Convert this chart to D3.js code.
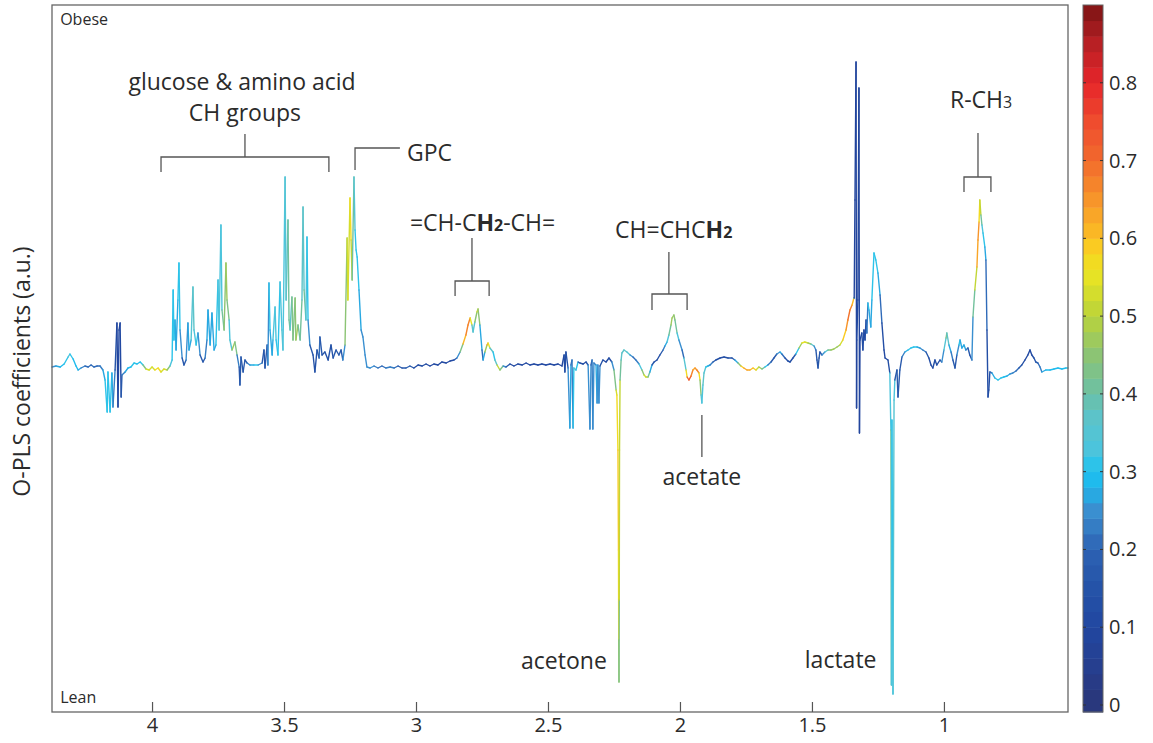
<!DOCTYPE html>
<html><head><meta charset="utf-8">
<script src="https://cdn.jsdelivr.net/npm/d3@7"></script>
<style>body{margin:0;background:#fff}svg{display:block}text{font-family:"Open Sans",sans-serif;fill:#2b2b2b}</style>
</head><body><svg id="c" width="1153" height="743"></svg>
<script>
// ---- data: chemical shift (ppm), O-PLS coefficient (a.u.), correlation |r| ----
const ppm = [
4.379,4.364,4.348,4.333,4.318,4.311,4.299,4.288,4.280,4.269,4.254,4.242,4.231,4.220,4.208,4.197,4.186,4.178,4.170,4.167,4.159,4.152,4.148,4.140,4.133,4.129,4.125,4.121,4.117,4.114,4.102,4.091,4.080,4.068,4.057,4.045,4.034,4.023,4.011,4.000,3.989,3.977,3.966,3.955,3.943,3.932,
3.924,3.920,3.917,3.913,3.909,3.902,3.898,3.894,3.886,3.879,3.871,3.864,3.860,3.852,3.845,3.841,3.833,3.826,3.818,3.807,3.799,3.792,3.788,3.780,3.773,3.765,3.758,3.750,3.746,3.739,3.735,3.727,3.720,3.716,3.708,3.705,3.697,3.686,3.678,3.670,3.667,3.663,3.655,3.648,3.640,3.629,3.614,3.598,3.583,3.576,3.572,3.564,3.561,3.557,3.553,3.545,3.542,3.534,3.530,3.523,3.515,3.508,3.504,3.496,3.492,3.485,3.481,3.477,3.470,3.466,3.458,3.455,3.447,3.439,3.432,3.428,3.424,3.417,3.413,3.409,3.402,3.390,3.383,3.375,3.367,3.364,3.356,3.345,3.333,3.322,3.314,3.303,3.292,3.284,3.277,3.269,3.261,3.258,3.250,3.246,3.242,3.235,3.231,3.227,3.223,3.216,3.208,3.201,3.193,3.186,3.174,
3.159,3.144,3.129,3.114,3.098,3.083,3.068,3.053,3.038,3.023,3.008,2.992,2.977,2.962,2.947,2.932,2.917,2.902,2.886,2.871,2.856,2.845,
2.833,2.822,2.811,2.803,2.795,2.788,2.784,2.777,2.769,2.765,2.758,2.750,2.746,2.739,2.731,2.727,2.720,2.708,2.701,2.693,2.682,2.670,2.659,
2.644,2.629,2.614,2.598,2.583,2.568,2.553,2.538,2.523,2.508,2.492,2.477,2.462,2.447,
2.439,2.436,2.432,2.424,2.417,2.413,2.409,2.405,2.402,2.394,2.386,2.379,2.367,2.356,2.348,2.341,2.337,2.333,2.330,2.326,2.318,2.314,2.311,2.307,2.303,2.292,2.280,2.269,2.258,
2.250,2.242,2.239,2.235,2.233,2.232,2.231,2.230,2.229,2.227,2.223,2.220,2.212,2.201,2.189,2.178,2.167,2.155,2.144,2.136,2.129,2.121,2.114,2.106,
2.098,2.087,2.076,2.064,2.057,2.049,2.042,2.034,2.030,2.023,2.019,2.011,2.004,1.992,1.985,1.977,1.973,1.966,1.958,1.951,1.943,1.936,1.928,1.924,1.920,1.917,1.913,1.909,1.902,1.894,1.886,1.875,1.864,1.848,1.833,1.818,1.803,1.792,1.780,1.769,1.758,1.746,1.735,1.723,1.712,1.701,1.689,1.678,1.667,
1.655,1.644,1.633,1.621,1.614,1.602,1.591,1.583,1.572,1.561,1.549,1.538,1.527,1.515,1.504,1.492,1.485,1.481,1.477,1.473,1.470,1.462,1.451,1.439,1.428,1.417,1.405,1.394,1.383,1.371,1.364,1.356,1.348,1.341,1.340,
1.337,1.333,1.331,1.330,1.326,1.322,1.320,1.318,1.311,1.307,1.303,1.299,1.295,1.292,1.288,1.284,1.277,1.273,1.265,1.258,1.250,1.242,1.235,1.227,1.223,1.212,1.205,1.201,1.199,1.197,1.193,1.189,1.186,1.178,1.174,1.167,
1.159,1.148,1.136,1.125,1.114,1.102,1.091,1.080,1.068,1.057,1.049,1.042,1.034,1.027,1.015,1.008,1.000,0.992,0.989,0.981,0.973,0.966,0.958,0.951,0.943,0.939,0.932,0.924,0.917,0.909,0.902,0.894,0.890,0.883,0.875,0.871,0.867,0.864,0.860,0.856,0.852,0.845,0.841,0.837,0.833,0.830,0.826,0.818,0.807,0.795,0.784,0.773,0.761,0.750,0.739,0.727,0.716,0.705,0.693,0.682,0.674,0.667,0.659,0.652,0.644,0.636,0.629,0.614,0.598,0.583,0.568,0.553,0.538,0.530
];
const coef = [
0,0.01,0,0.03,0.10,0.13,0.08,0.01,-0.03,-0.01,0.01,0,0.02,0,0.01,0.01,-0.03,-0.13,-0.45,-0.05,-0.45,-0.06,-0.40,-0.03,0.44,-0.40,0.37,0.44,-0.30,-0.08,-0.05,-0.01,0,0.04,0.03,0.05,0.02,-0.02,-0.03,0,-0.03,-0.01,-0.05,-0.02,-0.03,0.01,
0.07,0.77,0.27,0.47,0.17,0.67,1.04,0.37,0.09,0.02,0.07,0.44,0.17,0.27,0.80,0.37,0.22,0.34,0.12,0.05,0.09,0.27,0.57,0.22,0.54,0.17,0.22,0.87,0.37,1.42,0.57,0.37,1.04,0.67,0.47,0.27,0.17,0.25,0.12,0,-0.18,0.10,-0.05,0.07,0.04,0.02,0.02,0.02,0.04,0.17,-0.01,0.22,0.02,0.84,0.37,0.12,0.27,0.60,0.27,0.12,0.85,0.37,0.17,1.90,0.67,1.47,0.47,0.37,0.70,0.27,0.69,0.27,0.42,0.27,0.67,1.60,0.77,0.47,1.30,0.47,0.22,0.12,-0.05,0.17,0.09,0.30,0.12,0.15,0.07,0.22,0.09,0.17,0.12,0.17,0.07,0.22,1.29,0.67,1.69,1.27,0.87,1.90,1.37,1.17,1.10,0.77,0.37,0.30,0.12,0,-0.01,
0.01,-0.01,0.01,-0.01,0,-0.01,0.01,-0.01,-0.01,0.01,-0.01,0.02,0.01,0.03,0.01,0.03,0.02,0.05,0.04,0.06,0.07,0.09,
0.15,0.23,0.32,0.42,0.49,0.42,0.35,0.45,0.55,0.58,0.42,0.17,0.07,0.15,0.22,0.24,0.19,0.15,0.07,0.02,-0.03,0.01,0,
0.03,0.01,0.03,0.02,0.04,0.02,0.03,0.02,0.03,0.02,0.03,0.02,0.03,0.01,
0.12,-0.05,0.15,-0.01,-0.61,0.02,0.07,-0.61,-0.01,-0.03,0.05,0.04,0.03,0.05,0.02,-0.62,0.02,0.07,-0.62,0.04,0.02,-0.36,0.02,-0.36,0.01,0.07,0.05,0.09,0.05,
-0.03,-0.23,-0.28,-0.83,-1.83,-2.73,-3.15,-2.33,-0.83,-0.13,0.07,0.14,0.17,0.15,0.12,0.10,0.07,0.03,-0.03,-0.08,-0.10,-0.10,-0.05,0.02,
0.05,0.07,0.12,0.17,0.21,0.25,0.32,0.42,0.49,0.52,0.47,0.34,0.27,0.17,0.09,-0.03,-0.10,-0.13,-0.09,-0.03,-0.01,-0.03,-0.06,-0.13,-0.28,-0.36,-0.18,-0.06,0,0.01,0.02,0.05,0.07,0.09,0.10,0.09,0.09,0.07,0.04,0.01,-0.01,-0.03,-0.03,-0.01,-0.03,0,-0.02,0,0.02,
0.05,0.09,0.13,0.15,0.13,0.09,0.06,0.05,0.09,0.13,0.19,0.24,0.25,0.24,0.23,0.21,0.17,0.07,-0.01,0.09,0.15,0.12,0.15,0.17,0.17,0.18,0.20,0.22,0.27,0.37,0.47,0.57,0.62,0.69,0.69,
1.67,3.05,-0.41,0.27,0.67,2.79,-0.66,0.27,0.34,0.17,0.37,0.27,0.47,0.34,0.64,0.57,0.40,0.67,1.14,1.07,0.94,0.72,0.44,0.17,0.09,0.07,-0.06,-0.63,-3.18,-0.53,-3.27,-0.33,-0.13,-0.03,-0.30,-0.03,
0.10,0.15,0.17,0.19,0.20,0.20,0.19,0.17,0.15,0.09,0.02,-0.01,0.07,0.02,0.07,0.05,0.17,0.29,0.34,0.22,0.15,0.07,-0.01,0.12,0.22,0.27,0.19,0.22,0.17,0.19,0.12,0.07,0.50,0.77,1.00,1.27,1.45,1.67,1.52,1.42,1.34,1.20,1.07,0.37,-0.30,-0.23,-0.05,-0.06,-0.11,-0.13,-0.11,-0.10,-0.09,-0.07,-0.06,-0.04,-0.01,0.02,0.07,0.12,0.17,0.12,0.09,0.05,0.04,0,-0.05,-0.03,-0.03,-0.02,-0.01,-0.02,-0.01,-0.01
];
const corr = [
0.25,0.25,0.28,0.3,0.32,0.33,0.3,0.28,0.3,0.25,0.22,0.2,0.2,0.22,0.2,0.2,0.25,0.3,0.32,0.3,0.32,0.3,0.25,0.2,0.08,0.1,0.1,0.08,0.12,0.2,0.25,0.28,0.3,0.3,0.3,0.28,0.35,0.5,0.55,0.5,0.55,0.6,0.55,0.5,0.55,0.35,
0.3,0.3,0.3,0.3,0.25,0.3,0.32,0.3,0.2,0.15,0.2,0.3,0.25,0.3,0.4,0.35,0.3,0.3,0.2,0.15,0.2,0.25,0.3,0.25,0.3,0.25,0.3,0.32,0.35,0.3,0.35,0.45,0.45,0.5,0.35,0.3,0.4,0.55,0.3,0.15,0.2,0.15,0.2,0.15,0.2,0.25,0.3,0.3,0.2,0.15,0.15,0.2,0.2,0.3,0.3,0.25,0.3,0.35,0.3,0.3,0.3,0.35,0.35,0.3,0.4,0.35,0.45,0.35,0.4,0.45,0.4,0.5,0.45,0.35,0.45,0.3,0.45,0.35,0.3,0.3,0.2,0.15,0.15,0.15,0.2,0.2,0.15,0.15,0.15,0.15,0.15,0.2,0.15,0.2,0.15,0.35,0.55,0.5,0.55,0.6,0.4,0.4,0.3,0.3,0.3,0.3,0.25,0.25,0.25,0.25,0.25,
0.25,0.2,0.22,0.2,0.25,0.22,0.2,0.15,0.18,0.2,0.15,0.12,0.15,0.12,0.1,0.1,0.12,0.1,0.1,0.1,0.12,0.2,
0.3,0.55,0.65,0.68,0.65,0.45,0.3,0.4,0.5,0.55,0.35,0.2,0.2,0.35,0.6,0.65,0.45,0.3,0.3,0.45,0.55,0.3,0.2,
0.12,0.1,0.12,0.1,0.1,0.1,0.12,0.1,0.12,0.1,0.1,0.12,0.1,0.1,
0.1,0.15,0.1,0.2,0.3,0.25,0.15,0.3,0.3,0.4,0.2,0.15,0.12,0.1,0.2,0.3,0.2,0.15,0.3,0.2,0.25,0.3,0.2,0.3,0.2,0.1,0.1,0.1,0.15,
0.35,0.5,0.55,0.6,0.58,0.55,0.4,0.45,0.55,0.45,0.35,0.4,0.35,0.4,0.3,0.2,0.2,0.25,0.4,0.5,0.55,0.45,0.35,0.2,
0.15,0.12,0.15,0.2,0.25,0.3,0.35,0.45,0.5,0.45,0.45,0.35,0.3,0.2,0.2,0.5,0.65,0.75,0.7,0.65,0.6,0.7,0.65,0.5,0.4,0.3,0.35,0.4,0.3,0.3,0.25,0.2,0.15,0.12,0.12,0.15,0.15,0.2,0.35,0.55,0.62,0.65,0.6,0.62,0.55,0.5,0.45,0.35,0.25,
0.2,0.15,0.2,0.3,0.25,0.15,0.12,0.12,0.15,0.2,0.4,0.55,0.55,0.5,0.45,0.3,0.2,0.15,0.15,0.2,0.15,0.2,0.3,0.4,0.45,0.5,0.45,0.5,0.55,0.62,0.68,0.7,0.65,0.55,0.08,
0.08,0.08,0.08,0.1,0.1,0.08,0.08,0.1,0.12,0.15,0.12,0.1,0.15,0.15,0.3,0.3,0.25,0.3,0.3,0.3,0.3,0.25,0.15,0.12,0.1,0.12,0.15,0.5,0.3,0.35,0.25,0.45,0.2,0.15,0.2,0.15,
0.2,0.25,0.3,0.3,0.3,0.3,0.25,0.25,0.2,0.15,0.12,0.1,0.15,0.1,0.15,0.2,0.3,0.4,0.45,0.3,0.25,0.2,0.15,0.2,0.3,0.3,0.25,0.3,0.25,0.2,0.15,0.15,0.35,0.45,0.55,0.7,0.6,0.55,0.45,0.35,0.3,0.3,0.25,0.15,0.12,0.12,0.15,0.25,0.3,0.3,0.3,0.3,0.28,0.25,0.25,0.2,0.2,0.15,0.12,0.1,0.1,0.12,0.15,0.15,0.2,0.22,0.25,0.28,0.3,0.28,0.3,0.28,0.3,0.3
];
const xTicks = [4, 3.5, 3, 2.5, 2, 1.5, 1];
const cbTicks = [0, 0.1, 0.2, 0.3, 0.4, 0.5, 0.6, 0.7, 0.8];
const cStops  = [0, 0.05, 0.1, 0.15, 0.2, 0.25, 0.28, 0.3, 0.33, 0.37, 0.4, 0.45, 0.5, 0.55, 0.58, 0.6, 0.65, 0.7, 0.75, 0.8, 0.85, 0.9];
const cColors = ["#2a3679","#263f8f","#2147a0","#2553a8","#2d62b3","#3a8fd0","#20b4ea","#1ec3f0","#4cc4dc","#5cc3c9","#6bc0a6","#8cc474","#b9d33a","#e6e325","#f8d71f","#fbbf24","#f7952a","#f26a2d","#ef4c2e","#e6252a","#b82024","#7c1414"];
// annotations in data units (ppm, coefficient)
const labels = [
  {t:"glucose & amino acid", p:3.659, c:2.77, a:"middle"},
  {t:"CH groups", p:3.648, c:2.46, a:"middle"},
  {t:"GPC", p:3.034, c:2.06, a:"start"},
  {t:"acetate", p:1.917, c:-1.18, a:"middle"},
  {t:"acetone", p:2.277, c:-3.02, a:"end"},
  {t:"lactate", p:1.527, c:-3.01, a:"start"}
];
const brackets = [
  {stem:[3.648, 2.33, 2.10], bar:[3.966, 3.330, 2.10, 1.95]},
  {stem:[2.788, 1.29, 0.86], bar:[2.852, 2.723, 0.86, 0.71]},
  {stem:[2.042, 1.15, 0.73], bar:[2.106, 1.973, 0.73, 0.57]},
  {stem:[0.871, 2.34, 1.90], bar:[0.924, 0.822, 1.90, 1.75]}
];

const svg = d3.select("#c");
const L=52,R=1068,T=5,B=712;
const x = d3.scaleLinear().domain([4.379, 0.530]).range([L, R]);
const y = d3.scaleLinear().domain([-3.45, 3.62]).range([B, T]);
const interp = d3.scaleLinear().domain(cStops).range(cColors).interpolate(d3.interpolateRgb).clamp(true);
const nb = 45, bw = 0.9/nb;
const color = v => interp((Math.min(nb-1, Math.max(0, Math.floor(v/bw))) + 0.5) * bw);

// spectrum segments
const g = svg.append("g");
g.selectAll("line").data(d3.range(ppm.length-1)).join("line")
  .attr("x1", i => x(ppm[i])).attr("y1", i => y(coef[i]))
  .attr("x2", i => x(ppm[i+1])).attr("y2", i => y(coef[i+1]))
  .attr("stroke", i => color((corr[i]+corr[i+1])/2))
  .attr("stroke-width", 1.4).attr("stroke-linecap","round");

// frame + axis
svg.append("rect").attr("x",L).attr("y",T).attr("width",R-L).attr("height",B-T)
  .attr("fill","none").attr("stroke","#666").attr("stroke-width",1.3);
const ax = svg.append("g").attr("transform",`translate(0,${B})`)
  .call(d3.axisBottom(x).tickValues(xTicks).tickSize(-10).tickPadding(6).tickFormat(d => String(d)));
ax.select(".domain").remove();
ax.selectAll(".tick line").attr("stroke","#555").attr("stroke-width",1.2);
ax.selectAll(".tick text").style("font-size","20px").style("font-family",'"Open Sans",sans-serif').attr("fill","#2b2b2b");

svg.append("text").attr("transform",`translate(30,${(T+B)/2+13}) rotate(-90)`)
  .attr("text-anchor","middle").style("font-size","23px").text("O-PLS coefficients (a.u.)");
svg.append("text").attr("x",x(4.348)).attr("y",y(3.42)).style("font-size","16px").text("Obese");
svg.append("text").attr("x",x(4.348)).attr("y",y(-3.36)).style("font-size","16px").text("Lean");

// annotations
const ann = svg.append("g");
labels.forEach(d => ann.append("text").attr("x",x(d.p)).attr("y",y(d.c))
  .attr("text-anchor",d.a).style("font-size","23px").text(d.t));
const t1 = ann.append("text").attr("x",x(3.023)).attr("y",y(1.36)).style("font-size","23px");
t1.append("tspan").text("=CH-C"); t1.append("tspan").attr("font-weight","bold").text("H");
t1.append("tspan").attr("font-weight","bold").style("font-size","16px").text("2"); t1.append("tspan").text("-CH=");
const t2 = ann.append("text").attr("x",x(2.246)).attr("y",y(1.29)).style("font-size","23px");
t2.append("tspan").text("CH=CHC"); t2.append("tspan").attr("font-weight","bold").text("H");
t2.append("tspan").attr("font-weight","bold").style("font-size","16px").text("2");
const t3 = ann.append("text").attr("x",x(0.977)).attr("y",y(2.59)).style("font-size","23px");
t3.append("tspan").text("R-CH"); t3.append("tspan").style("font-size","16px").text("3");

const lc = "#555";
brackets.forEach(b => {
  ann.append("path").attr("fill","none").attr("stroke",lc).attr("stroke-width",1.3)
    .attr("d",`M${x(b.stem[0])},${y(b.stem[1])}V${y(b.stem[2])}M${x(b.bar[0])},${y(b.bar[3])}V${y(b.bar[2])}H${x(b.bar[1])}V${y(b.bar[3])}`);
});
ann.append("path").attr("fill","none").attr("stroke",lc).attr("stroke-width",1.3)
  .attr("d",`M${x(3.231)},${y(1.97)}V${y(2.19)}H${x(3.061)}`);
ann.append("path").attr("fill","none").attr("stroke",lc).attr("stroke-width",1.3)
  .attr("d",`M${x(1.917)},${y(-0.48)}V${y(-0.90)}`);

// colorbar
const cx0 = 1083, cw = 20;
const cy = d3.scaleLinear().domain([0, 0.9]).range([705, 5]);
const cb = svg.append("g");
cb.selectAll("rect").data(d3.range(nb)).join("rect")
  .attr("x",cx0).attr("width",cw)
  .attr("y", i => cy((i+1)*bw))
  .attr("height", i => (i===0 ? B : cy(i*bw)) - cy((i+1)*bw) + 0.5)
  .attr("fill", i => interp((i+0.5)*bw));
cb.append("rect").attr("x",cx0).attr("y",T).attr("width",cw).attr("height",B-T)
  .attr("fill","none").attr("stroke","#666").attr("stroke-width",1);
cbTicks.forEach(v => {
  cb.append("path").attr("stroke","#333").attr("stroke-width",1)
    .attr("d",`M${cx0},${cy(v)}h3M${cx0+cw},${cy(v)}h-3`);
  cb.append("text").attr("x",cx0+cw+6).attr("y",cy(v)).attr("dy","0.35em")
    .style("font-size","20px").text(String(v));
});
</script></body></html>
